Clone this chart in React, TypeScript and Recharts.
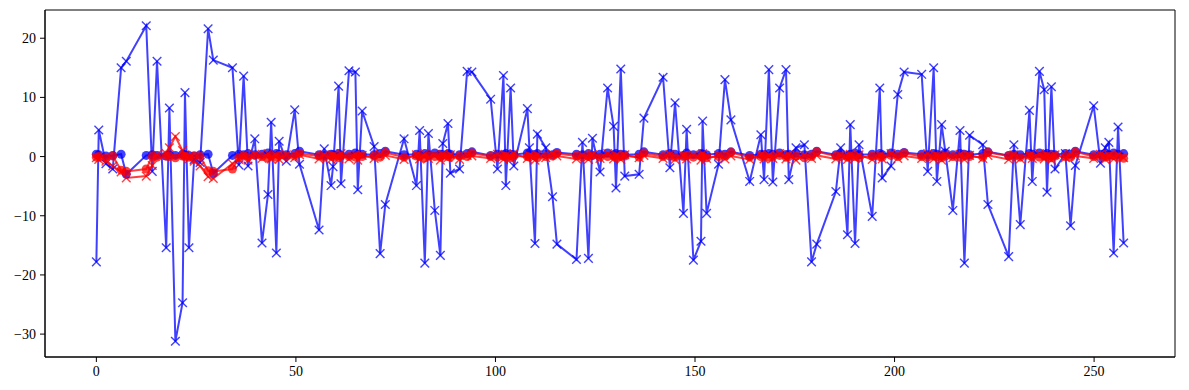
import { LineChart, Line, XAxis, YAxis, ReferenceArea } from "recharts";

// sample positions (shared by all four series)
const xs = [
  0, 0.6, 2.4, 4.1, 6.2, 7.5, 12.5, 14.0, 15.2, 17.5, 18.3, 19.8, 21.6, 22.2, 23.2, 24.5, 26.0, 28.0, 29.3,
  34.1, 35.7, 36.9, 38.0, 39.7, 41.5, 43.0, 43.8, 45.1, 45.8, 47.6, 49.7, 50.9,
  55.8, 57.1, 58.8, 59.3, 60.7, 61.3, 63.3, 64.9, 65.5, 66.6, 69.6, 71.1, 72.4,
  77.1, 80.2, 81.0, 82.3, 83.2, 84.8, 86.2, 86.8, 88.1, 88.7, 91.0, 92.9, 94.1,
  98.8, 100.5, 102.0, 102.6, 103.8, 104.6, 108.0, 108.5, 109.9, 110.5, 112.6, 114.3, 115.4,
  120.3, 121.8, 123.3, 124.3, 126.2, 128.1, 129.6, 130.2, 131.4, 132.4, 136.0, 137.2,
  142.0, 143.7, 145.0, 147.1, 147.9, 149.6, 151.5, 151.9, 152.9, 155.9, 157.5, 159.0,
  163.7, 166.5, 167.3, 168.5, 169.5, 171.2, 172.8, 173.5, 175.3, 177.4, 179.2, 180.5,
  185.3, 186.5, 188.2, 188.9, 190.1, 191.1, 194.4, 196.3, 196.9, 199.1, 200.8, 202.4,
  206.8, 208.3, 209.8, 210.6, 211.8, 212.7, 214.6, 216.4, 217.5, 218.8, 222.1, 223.4,
  228.6, 229.9, 231.5, 233.8, 234.5, 236.3, 237.5, 238.2, 239.3, 240.2, 242.8, 244.1, 245.3,
  249.9, 251.6, 252.8, 253.7, 254.9, 256.0, 257.4,
];

const blueCross = [
  -17.8, 4.5, -1.2, -2.1, 15.0, 16.1, 22.1, -2.5, 16.1, -15.4, 8.2, -31.2, -24.7, 10.8, -15.4, -0.5, -1.0, 21.6, 16.3,
  15.0, -1.4, 13.6, -1.6, 3.0, -14.6, -6.4, 5.8, -16.3, 2.6, -0.8, 7.9, -1.3,
  -12.4, 1.3, -4.9, -1.7, 11.9, -4.6, 14.5, 14.3, -5.6, 7.7, 1.7, -16.4, -8.1,
  3.0, -4.9, 4.4, -18.0, 3.9, -9.1, -16.7, 2.2, 5.6, -2.8, -2.1, 14.4, 14.3,
  9.7, -2.1, 13.7, -4.9, 11.6, -1.6, 8.1, 1.5, -14.7, 3.8, 1.5, -6.8, -14.8,
  -17.4, 2.4, -17.2, 3.1, -2.6, 11.6, 5.1, -5.3, 14.8, -3.3, -3.0, 6.5,
  13.4, -1.9, 9.1, -9.6, 4.6, -17.5, -14.3, 6.0, -9.6, -1.3, 13.0, 6.2,
  -4.2, 3.7, -3.9, 14.7, -4.3, 11.6, 14.7, -3.9, 1.5, 2.0, -17.8, -14.8,
  -5.9, 1.5, -13.2, 5.4, -14.7, 2.0, -10.1, 11.6, -3.6, -1.6, 10.5, 14.3,
  13.9, -2.5, 15.0, -4.2, 5.4, 0.9, -9.1, 4.4, -18.0, 3.6, 2.0, -8.1,
  -16.9, 2.0, -11.5, 7.8, -4.2, 14.4, 11.3, -6.0, 11.8, -2.1, 0.5, -11.7, -1.5,
  8.6, -1.1, 1.5, 2.4, -16.3, 5.0, -14.6,
];

const blueDot = [
  0.4, 0.3, 0.1, 0.2, 0.4, -3.0, 0.2, 0.3, 0.2, 0.1, 0.3, 0.2, 0.4, 0.3, 0.2, 0.1, 0.3, 0.4, -2.8,
  0.2, 0.4, 0.3, 0.5, 0.3, 0.4, 0.6, 0.3, 0.5, 0.4, 0.3, 0.5, 0.9,
  0.3, 0.2, 0.4, 0.3, 0.5, 0.2, 0.4, 0.6, 0.3, 0.4, 0.3, 0.5, 0.9,
  0.3, 0.4, 0.2, 0.5, 0.3, 0.6, 0.4, 0.3, 0.5, 0.4, 0.3, 0.5, 0.8,
  0.2, 0.4, 0.3, 0.5, 0.4, 0.3, 0.6, 0.4, 0.3, 0.5, 0.4, 0.3, 0.7,
  0.4, 0.3, 0.5, 0.2, 0.4, 0.6, 0.3, 0.5, 0.4, 0.3, 0.4, 0.8,
  0.3, 0.5, 0.4, 0.2, 0.6, 0.3, 0.5, 0.4, 0.3, 0.5, 0.4, 0.8,
  0.2, 0.4, 0.3, 0.5, 0.4, 0.6, 0.3, 0.4, 0.5, 0.3, 0.4, 0.9,
  0.3, 0.5, 0.2, 0.4, 0.6, 0.3, 0.4, 0.5, 0.3, 0.6, 0.4, 0.7,
  0.4, 0.3, 0.5, 0.4, 0.2, 0.6, 0.3, 0.5, 0.4, 0.3, 0.5, 0.8,
  0.2, 0.4, 0.3, 0.5, 0.4, 0.6, 0.3, 0.5, 0.4, 0.3, 0.5, 0.4, 0.9,
  0.3, 0.4, 0.5, 0.3, 0.6, 0.4, 0.5,
];

const redDot = [
  -0.1, 0.0, -0.2, 0.1, -2.3, -2.5, -2.1, 0.0, -0.1, 0.1, 0.0, -0.2, 0.1, 0.0, -0.1, 0.1, 0.0, -2.4, -2.5,
  -2.1, -0.2, 0.1, -0.1, 0.2, 0.0, -0.2, 0.1, -0.1, 0.2, 0.0, 0.1, 0.5,
  0.1, -0.1, 0.2, 0.0, -0.2, 0.1, 0.0, -0.1, 0.2, 0.0, 0.1, -0.1, 0.7,
  -0.1, 0.1, 0.0, -0.2, 0.1, 0.0, -0.1, 0.2, 0.0, -0.1, 0.1, 0.0, 0.6,
  0.0, -0.1, 0.1, 0.0, -0.2, 0.1, 0.0, -0.1, 0.1, -0.2, 0.0, 0.1, 0.5,
  0.1, -0.1, 0.0, 0.2, -0.1, 0.0, 0.1, -0.2, 0.0, 0.1, -0.1, 0.6,
  0.0, 0.1, -0.1, 0.0, 0.2, -0.1, 0.0, 0.1, -0.2, 0.0, 0.1, 0.7,
  -0.1, 0.0, 0.1, -0.1, 0.0, 0.2, -0.1, 0.0, 0.1, -0.2, 0.0, 0.8,
  0.1, 0.0, -0.1, 0.1, 0.0, -0.2, 0.1, 0.0, -0.1, 0.2, 0.0, 0.6,
  0.0, -0.1, 0.1, 0.0, -0.2, 0.1, 0.0, -0.1, 0.2, 0.0, -0.1, 0.7,
  0.1, 0.0, -0.1, 0.2, 0.0, -0.1, 0.1, 0.0, -0.2, 0.1, 0.0, -0.1, 0.8,
  0.0, 0.1, -0.1, 0.0, 0.2, -0.1, -0.3,
];

const redCross = [
  -0.2, -0.5, -0.8, -1.6, -2.6, -3.6, -3.3, -1.5, 0.3, 0.5, 1.5, 3.4, 1.0, 0.3, -0.4, -0.8, -1.6, -3.4, -3.7,
  -1.2, -0.5, 0.3, -0.6, 0.4, -0.3, 0.5, -0.4, 0.2, -0.5, 0.3, -0.2, 0.3,
  -0.4, 0.3, -0.5, 0.2, -0.3, 0.5, -0.4, 0.3, -0.6, 0.2, -0.3, 0.4, 0.2,
  -0.5, 0.3, -0.4, 0.5, -0.3, 0.2, -0.6, 0.4, -0.2, 0.3, -0.5, 0.2, 0.1,
  -0.3, 0.4, -0.5, 0.2, -0.4, 0.5, -0.3, 0.2, -0.6, 0.3, -0.2, 0.4, 0.1,
  -0.4, 0.2, -0.5, 0.3, -0.3, 0.5, -0.4, 0.2, -0.5, 0.3, -0.2, 0.2,
  -0.3, 0.4, -0.5, 0.2, -0.4, 0.3, -0.6, 0.5, -0.3, 0.2, -0.4, 0.1,
  -0.5, 0.3, -0.4, 0.2, -0.3, 0.5, -0.4, 0.3, -0.6, 0.2, -0.3, 0.2,
  -0.4, 0.2, -0.5, 0.4, -0.3, 0.3, -0.5, 0.2, -0.4, 0.5, -0.3, 0.1,
  -0.3, 0.5, -0.4, 0.2, -0.6, 0.3, -0.2, 0.4, -0.5, 0.2, -0.3, 0.2,
  -0.5, 0.3, -0.4, 0.2, -0.3, 0.5, -0.4, 0.2, -0.6, 0.3, -0.2, 0.4, 0.1,
  -0.3, 0.4, -0.5, 0.2, -0.4, 0.3, -0.2,
];

const xTicks = [0, 50, 100, 150, 200, 250];
const yTicks = [-30, -20, -10, 0, 10, 20];

const X_DOMAIN = [-12.87, 270.27];
const Y_DOMAIN = [-33.87, 24.77];

const BLUE = "#0000ff";
const RED = "#ff0000";
const FONT = "'Liberation Serif', 'DejaVu Serif', serif";

const data = xs.map((x, i) => ({
  x,
  bx: blueCross[i],
  bo: blueDot[i],
  ro: redDot[i],
  rx: redCross[i],
}));

const circleDot = (color: string) => (p: any) => (
  <circle
    key={`o-${color}-${p.index}`}
    cx={p.cx}
    cy={p.cy}
    r={4.5}
    fill={color}
    fillOpacity={0.75}
    stroke="none"
  />
);

const crossDot = (color: string) => (p: any) => {
  const s = 4.3;
  return (
    <g key={`x-${color}-${p.index}`} stroke={color} strokeOpacity={0.75} strokeWidth={1.4}>
      <line x1={p.cx - s} y1={p.cy - s} x2={p.cx + s} y2={p.cy + s} />
      <line x1={p.cx - s} y1={p.cy + s} x2={p.cx + s} y2={p.cy - s} />
    </g>
  );
};

const fmt = (v: number) => String(v).replace("-", "\u2212");

const tickStyle = { fill: "#000", fontSize: 14, fontFamily: FONT };

export default function App() {
  return (
    <div style={{ position: "absolute", left: 0, top: 0, background: "#fff" }}>
      <LineChart
        width={1189}
        height={390}
        data={data}
        margin={{ top: 10, right: 14, bottom: 0, left: 0 }}
      >
        <XAxis
          dataKey="x"
          type="number"
          domain={X_DOMAIN}
          ticks={xTicks}
          allowDataOverflow
          height={33}
          tickSize={5}
          tickMargin={4}
          tickFormatter={fmt}
          tick={tickStyle}
          stroke="#000"
        />
        <YAxis
          type="number"
          domain={Y_DOMAIN}
          ticks={yTicks}
          allowDataOverflow
          width={45}
          tickSize={5}
          tickMargin={4}
          tickFormatter={fmt}
          tick={tickStyle}
          stroke="#000"
        />
        <Line
          dataKey="bx"
          stroke={BLUE}
          strokeOpacity={0.75}
          strokeWidth={2}
          dot={crossDot(BLUE)}
          activeDot={false}
          isAnimationActive={false}
        />
        <Line
          dataKey="bo"
          stroke={BLUE}
          strokeOpacity={0.75}
          strokeWidth={2}
          dot={circleDot(BLUE)}
          activeDot={false}
          isAnimationActive={false}
        />
        <Line
          dataKey="ro"
          stroke={RED}
          strokeOpacity={0.75}
          strokeWidth={2}
          dot={circleDot(RED)}
          activeDot={false}
          isAnimationActive={false}
        />
        <Line
          dataKey="rx"
          stroke={RED}
          strokeOpacity={0.75}
          strokeWidth={2}
          dot={crossDot(RED)}
          activeDot={false}
          isAnimationActive={false}
        />
        <ReferenceArea
          x1={X_DOMAIN[0]}
          x2={X_DOMAIN[1]}
          y1={Y_DOMAIN[0]}
          y2={Y_DOMAIN[1]}
          fill="none"
          stroke="#000"
          strokeWidth={1}
          ifOverflow="visible"
        />
      </LineChart>
    </div>
  );
}
